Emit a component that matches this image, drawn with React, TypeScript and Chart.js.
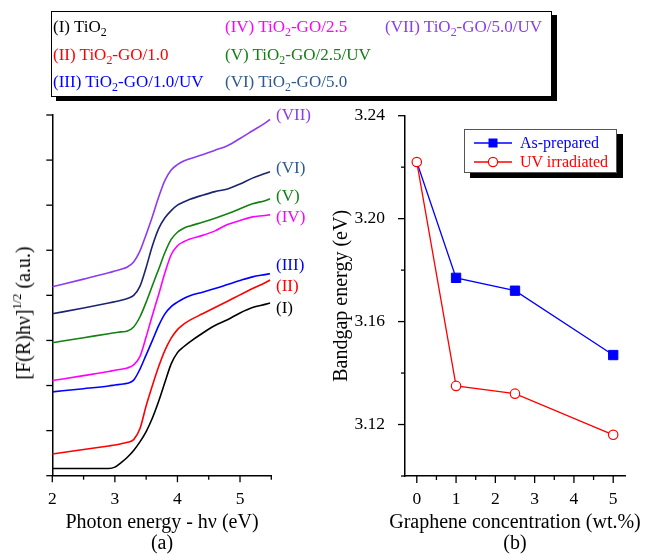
import React, { useEffect, useRef } from 'react';
import { Chart, registerables } from 'chart.js';

Chart.register(...registerables);

const FONT = '"Liberation Serif", "Times New Roman", serif';

// ---------- Panel (a) data ----------
const energyEV = [2.0, 2.5, 2.9, 3.0, 3.1, 3.2, 3.3, 3.4, 3.5, 3.6, 3.7, 3.8, 3.9, 4.0, 4.1, 4.2, 4.4, 4.6, 4.8, 5.0, 5.2, 5.4, 5.48];
const curveI = [0.16, 0.16, 0.16, 0.19, 0.29, 0.41, 0.56, 0.75, 0.98, 1.28, 1.65, 2.07, 2.48, 2.73, 2.86, 2.97, 3.16, 3.33, 3.46, 3.61, 3.73, 3.80, 3.83];
const curveII = [0.48, 0.58, 0.66, 0.68, 0.71, 0.74, 0.80, 1.04, 1.55, 2.00, 2.42, 2.78, 3.05, 3.24, 3.36, 3.45, 3.59, 3.73, 3.87, 4.01, 4.15, 4.28, 4.34];
const curveIII = [1.86, 1.93, 1.99, 2.01, 2.03, 2.05, 2.12, 2.36, 2.68, 3.00, 3.33, 3.59, 3.75, 3.85, 3.93, 3.99, 4.07, 4.15, 4.24, 4.33, 4.41, 4.46, 4.48];
const curveIV = [2.11, 2.22, 2.31, 2.34, 2.36, 2.39, 2.46, 2.64, 3.08, 3.56, 4.02, 4.50, 4.90, 5.10, 5.19, 5.25, 5.33, 5.43, 5.57, 5.66, 5.74, 5.77, 5.79];
const curveV = [2.95, 3.06, 3.15, 3.17, 3.19, 3.21, 3.30, 3.52, 3.85, 4.22, 4.58, 4.95, 5.24, 5.40, 5.49, 5.54, 5.62, 5.71, 5.81, 5.92, 6.03, 6.10, 6.14];
const curveVI = [3.59, 3.72, 3.83, 3.86, 3.89, 3.93, 4.00, 4.20, 4.62, 5.10, 5.48, 5.72, 5.88, 6.00, 6.07, 6.13, 6.22, 6.30, 6.36, 6.47, 6.60, 6.70, 6.74];
const curveVII = [4.19, 4.36, 4.50, 4.54, 4.58, 4.63, 4.74, 4.98, 5.35, 5.75, 6.18, 6.55, 6.78, 6.90, 6.98, 7.03, 7.12, 7.22, 7.32, 7.48, 7.65, 7.82, 7.90];

const romanLabels = ['(I)', '(II)', '(III)', '(IV)', '(V)', '(VI)', '(VII)'];
const sampleSuffix = ['', '-GO/1.0', '-GO/1.0/UV', '-GO/2.5', '-GO/2.5/UV', '-GO/5.0', '-GO/5.0/UV'];
const xTicksA = [2, 2.5, 3, 3.5, 4, 4.5, 5, 5.5];
const yTicksA = [0, 1, 2, 3, 4, 5, 6, 7, 8];
const xTitleA = 'Photon energy - hν (eV)';

// ---------- Panel (b) data ----------
const concentration = [0, 1, 2.5, 5];
const asPrepared = [3.222, 3.177, 3.172, 3.147];
const uvIrradiated = [3.222, 3.135, 3.132, 3.116];
const xTicksB = [0, 0.5, 1, 1.5, 2, 2.5, 3, 3.5, 4, 4.5, 5];
const yTicksB = [3.10, 3.12, 3.14, 3.16, 3.18, 3.20, 3.22, 3.24];
const yMajorLabelsB = ['3.12', '3.16', '3.20', '3.24'];
const xTitleB = 'Graphene concentration (wt.%)';
const yTitleB = 'Bandgap energy (eV)';
const seriesNamesB = ['As-prepared', 'UV irradiated'];

// ---------- styles ----------
const curves = [curveI, curveII, curveIII, curveIV, curveV, curveVI, curveVII];
const lineColors = ['#000000', '#ff0000', '#0000ff', '#ff00ff', '#128012', '#1c2470', '#8c3cf0'];
const textColors = ['#000000', '#ff0000', '#0000ff', '#ff00ff', '#128012', '#2f5a8c', '#8c3cf0'];
const labelDy = [6, 7, -8, 2.5, -2, -3.5, -3.5];

function makeTickPlugin(specs: any[]) {
  return {
    id: 'tickMarks',
    afterDraw(chart: any) {
      const ctx = chart.ctx;
      ctx.save();
      ctx.strokeStyle = '#000';
      ctx.lineWidth = 1.3;
      for (const spec of specs) {
        const scale = chart.scales[spec.id];
        for (const v of spec.values) {
          const len = spec.isMajor(v) ? spec.majorLen : spec.minorLen;
          const p = scale.getPixelForValue(v);
          ctx.beginPath();
          if (scale.isHorizontal()) {
            ctx.moveTo(p, scale.top);
            ctx.lineTo(p, scale.top + len);
          } else {
            ctx.moveTo(scale.right, p);
            ctx.lineTo(scale.right - len, p);
          }
          ctx.stroke();
        }
      }
      ctx.restore();
    },
  };
}

const curveLabelPlugin = {
  id: 'curveLabels',
  afterDatasetsDraw(chart: any) {
    const ctx = chart.ctx;
    const xs = chart.scales.x;
    const ys = chart.scales.y;
    ctx.save();
    ctx.font = `17px ${FONT}`;
    ctx.textBaseline = 'middle';
    ctx.textAlign = 'left';
    curves.forEach((vals, i) => {
      const last = vals.length - 1;
      const px = xs.getPixelForValue(energyEV[last]) + 6;
      const py = ys.getPixelForValue(vals[last]) + labelDy[i];
      ctx.fillStyle = textColors[i];
      ctx.fillText(romanLabels[i], px, py);
    });
    ctx.restore();
  },
};

const isInt = (v: number) => Math.abs(v - Math.round(v)) < 1e-9;
const isMajorB = (v: number) => yMajorLabelsB.some((s) => Math.abs(parseFloat(s) - v) < 1e-9);

export default function App() {
  const refA = useRef<HTMLCanvasElement>(null);
  const refB = useRef<HTMLCanvasElement>(null);

  useEffect(() => {
    const axisBorder = { display: true, color: '#000', width: 1.5 };
    const tickFont = { family: FONT, size: 17.5 };

    const chartA = new Chart(refA.current as HTMLCanvasElement, {
      type: 'line',
      data: {
        datasets: curves.map((vals, i) => ({
          label: romanLabels[i],
          data: energyEV.map((x, j) => ({ x, y: vals[j] })),
          borderColor: lineColors[i],
          borderWidth: 1.6,
          pointRadius: 0,
          cubicInterpolationMode: 'monotone' as const,
          fill: false,
        })),
      },
      options: {
        responsive: false,
        animation: false,
        events: [],
        layout: { padding: { left: 32.3, right: 649 - 271.3, top: 115, bottom: 0 } },
        plugins: { legend: { display: false }, tooltip: { enabled: false }, title: { display: false } },
        scales: {
          x: {
            type: 'linear',
            min: 2,
            max: 5.5,
            afterBuildTicks: (s: any) => { s.ticks = xTicksA.map((v) => ({ value: v })); },
            afterFit: (s: any) => { s.height = 554 - 475.7; },
            grid: { display: false },
            border: axisBorder,
            ticks: {
              callback: (v: any) => (isInt(Number(v)) ? String(v) : ''),
              font: tickFont,
              color: '#000',
              padding: 5,
              maxRotation: 0,
              autoSkip: false,
            },
          },
          y: {
            type: 'linear',
            min: 0,
            max: 8,
            afterBuildTicks: (s: any) => { s.ticks = yTicksA.map((v) => ({ value: v })); },
            afterFit: (s: any) => { s.width = 20; },
            grid: { display: false },
            border: axisBorder,
            ticks: { display: false },
          },
        },
      } as any,
      plugins: [
        makeTickPlugin([
          { id: 'x', values: xTicksA, isMajor: isInt, majorLen: 6.5, minorLen: 4 },
          { id: 'y', values: yTicksA, isMajor: () => true, majorLen: 6, minorLen: 6 },
        ]),
        curveLabelPlugin,
      ],
    });

    const chartB = new Chart(refB.current as HTMLCanvasElement, {
      type: 'line',
      data: {
        datasets: [
          {
            label: seriesNamesB[0],
            data: concentration.map((x, j) => ({ x, y: asPrepared[j] })),
            borderColor: '#0000ff',
            backgroundColor: '#0000ff',
            borderWidth: 1.3,
            pointStyle: 'rect',
            pointRadius: (c: any) => (c.dataIndex === 0 ? 0 : 6.6),
            pointBorderWidth: 1,
            order: 1,
          },
          {
            label: seriesNamesB[1],
            data: concentration.map((x, j) => ({ x, y: uvIrradiated[j] })),
            borderColor: '#ff0000',
            backgroundColor: '#ffffff',
            borderWidth: 1.3,
            pointStyle: 'circle',
            pointRadius: 4.7,
            pointBorderWidth: 1.2,
            order: 0,
          },
        ],
      },
      options: {
        responsive: false,
        animation: false,
        events: [],
        layout: { padding: { left: 320, right: 24, top: 115.7, bottom: 0 } },
        plugins: { legend: { display: false }, tooltip: { enabled: false }, title: { display: false } },
        scales: {
          x: {
            type: 'linear',
            min: -0.3,
            max: 5.3,
            afterBuildTicks: (s: any) => { s.ticks = xTicksB.map((v) => ({ value: v })); },
            afterFit: (s: any) => { s.height = 554 - 476; },
            grid: { display: false },
            border: axisBorder,
            ticks: {
              callback: (v: any) => (isInt(Number(v)) ? String(v) : ''),
              font: tickFont,
              color: '#000',
              padding: 5,
              maxRotation: 0,
              autoSkip: false,
            },
          },
          y: {
            type: 'linear',
            min: 3.1,
            max: 3.24,
            afterBuildTicks: (s: any) => { s.ticks = yTicksB.map((v) => ({ value: v })); },
            afterFit: (s: any) => { s.width = 85; },
            grid: { display: false },
            border: axisBorder,
            ticks: {
              callback: (v: any) => {
                const hit = yMajorLabelsB.find((s) => Math.abs(parseFloat(s) - Number(v)) < 1e-9);
                return hit || '';
              },
              font: tickFont,
              color: '#000',
              padding: 12,
              autoSkip: false,
            },
            title: {
              display: true,
              text: yTitleB,
              font: { family: FONT, size: 20, lineHeight: 1.2 },
              color: '#000',
              padding: { top: 10, bottom: 0 },
            },
          },
        },
      } as any,
      plugins: [
        makeTickPlugin([
          { id: 'x', values: xTicksB, isMajor: isInt, majorLen: 7, minorLen: 4 },
          { id: 'y', values: yTicksB, isMajor: isMajorB, majorLen: 7, minorLen: 4 },
        ]),
      ],
    });

    return () => {
      chartA.destroy();
      chartB.destroy();
    };
  }, []);

  const legendCols = [[0, 1, 2], [3, 4, 5], [6]];
  const colX = [53, 225, 385];
  const rowY = [27, 55, 82];

  const titleStyle = (cx: number, cy: number): React.CSSProperties => ({
    position: 'absolute',
    left: cx,
    top: cy - 11,
    transform: 'translateX(-50%)',
    fontSize: 20,
    lineHeight: '22px',
    whiteSpace: 'nowrap',
    color: '#000',
  });

  return (
    <div style={{ position: 'absolute', left: 0, top: 0, width: 649, height: 554, background: '#fff', fontFamily: FONT, overflow: 'hidden' }}>
      <canvas ref={refA} width={649} height={554} style={{ position: 'absolute', left: 0, top: 0 }} />
      <canvas ref={refB} width={649} height={554} style={{ position: 'absolute', left: 0, top: 0 }} />

      {/* top legend box */}
      <div style={{ position: 'absolute', left: 51, top: 11, width: 499, height: 84, border: '1.5px solid #000', boxShadow: '5px 4px 0 #000', background: '#fff' }} />
      {legendCols.map((col, ci) =>
        col.map((idx, ri) => (
          <div
            key={idx}
            style={{ position: 'absolute', left: colX[ci], top: rowY[ri] - 10, fontSize: 17, lineHeight: '20px', whiteSpace: 'nowrap', color: textColors[idx] }}
          >
            {romanLabels[idx]} TiO
            <span style={{ fontSize: '0.7em', position: 'relative', top: '0.35em', lineHeight: 0 }}>2</span>
            {sampleSuffix[idx]}
          </div>
        ))
      )}

      {/* panel (a) axis titles */}
      <div
        style={{ position: 'absolute', left: 23, top: 313, transform: 'translate(-50%, -50%) rotate(-90deg)', fontSize: 20, lineHeight: '22px', whiteSpace: 'nowrap', color: '#000' }}
      >
        [F(R)hν]
        <span style={{ fontSize: '0.62em', position: 'relative', top: '-0.75em', lineHeight: 0 }}>1/2</span>
        {' (a.u.)'}
      </div>
      <div style={titleStyle(162, 521)}>{xTitleA}</div>
      <div style={titleStyle(162, 542)}>(a)</div>

      {/* panel (b) x title */}
      <div style={titleStyle(515, 521)}>{xTitleB}</div>
      <div style={titleStyle(515, 542)}>(b)</div>

      {/* panel (b) legend */}
      <div style={{ position: 'absolute', left: 464, top: 129, width: 151, height: 42, border: '1px solid #555', boxShadow: '6px 5px 0 #000', background: '#fff' }} />
      <svg width={649} height={554} style={{ position: 'absolute', left: 0, top: 0, pointerEvents: 'none' }}>
        <line x1={474} y1={143} x2={512} y2={143} stroke="#0000ff" strokeWidth={1.3} />
        <rect x={488.5} y={138.5} width={9} height={9} fill="#0000ff" />
        <line x1={474} y1={162} x2={512} y2={162} stroke="#ff0000" strokeWidth={1.3} />
        <circle cx={493} cy={162} r={4.6} fill="#fff" stroke="#ff0000" strokeWidth={1.2} />
      </svg>
      <div style={{ position: 'absolute', left: 520, top: 143 - 10, fontSize: 16, lineHeight: '20px', color: '#0000ff', whiteSpace: 'nowrap' }}>{seriesNamesB[0]}</div>
      <div style={{ position: 'absolute', left: 520, top: 162 - 10, fontSize: 16, lineHeight: '20px', color: '#ff0000', whiteSpace: 'nowrap' }}>{seriesNamesB[1]}</div>
    </div>
  );
}
